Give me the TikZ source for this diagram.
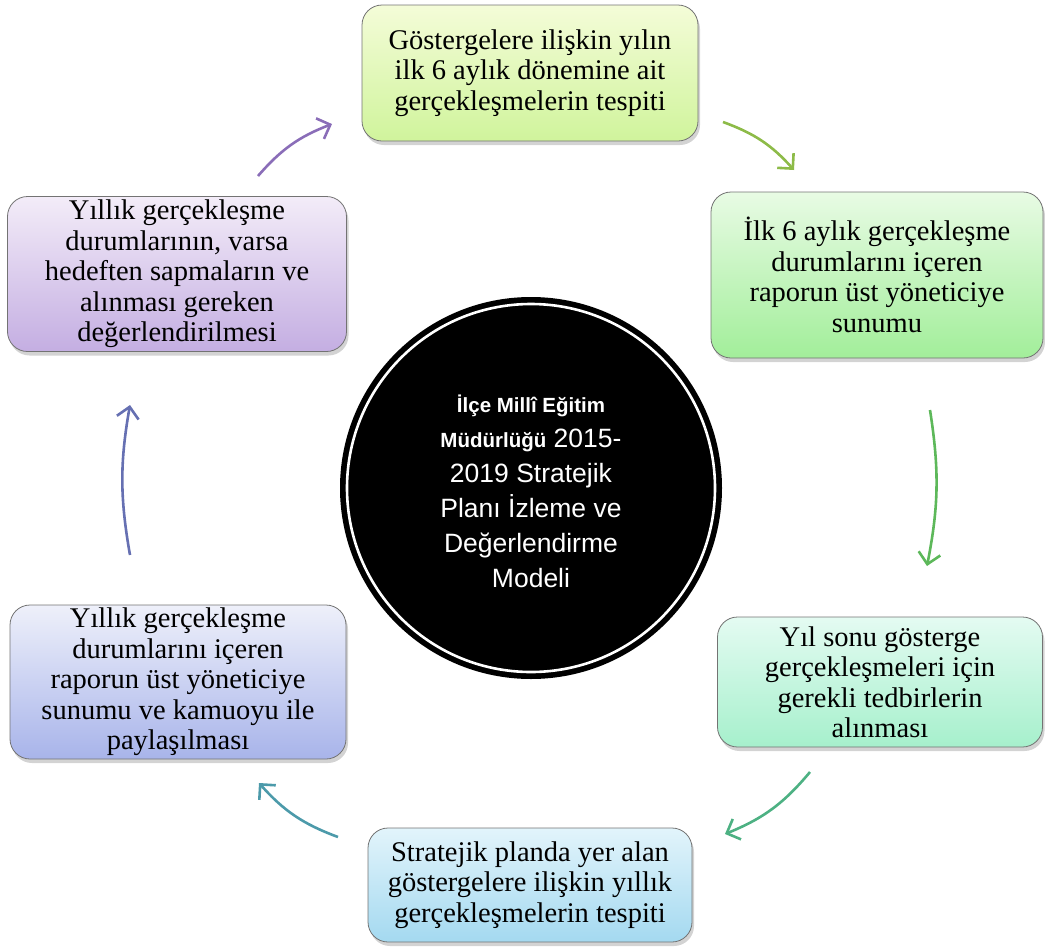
\documentclass[tikz,border=0pt]{standalone}
\usepackage{fontspec}
\setmainfont{Liberation Serif}
\newfontfamily\arialf{Liberation Sans}
\usetikzlibrary{arrows.meta,shadows}
\definecolor{aT}{HTML}{F4FCD8}\definecolor{aB}{HTML}{D0F49C}
\definecolor{bT}{HTML}{E8FBE4}\definecolor{bB}{HTML}{A2EE9A}
\definecolor{cT}{HTML}{E4FBF2}\definecolor{cB}{HTML}{A6F0CC}
\definecolor{dT}{HTML}{E2F4FB}\definecolor{dB}{HTML}{A4D9F0}
\definecolor{eT}{HTML}{EEF0FA}\definecolor{eB}{HTML}{A8B4EA}
\definecolor{fT}{HTML}{F3ECF8}\definecolor{fB}{HTML}{C4AEE2}
\definecolor{arA}{HTML}{8A6DB8}\definecolor{arB}{HTML}{8DBB48}
\definecolor{arC}{HTML}{5DB85A}\definecolor{arD}{HTML}{4DB183}
\definecolor{arE}{HTML}{4C9AAA}\definecolor{arF}{HTML}{6670B2}
\tikzset{
  stepbox/.style={draw=black!55, line width=0.8pt, rounded corners=20pt,
    align=center, inner sep=0pt,
    font=\fontsize{28.5}{30.5}\selectfont,
    drop shadow={opacity=0.35, shadow xshift=2pt, shadow yshift=-4pt}},
  cyc/.style={line width=2.6pt, -{Straight Barb[length=11pt,width=22pt]}, bend left=#1},
}
\begin{document}
\begin{tikzpicture}[x=1pt,y=-1pt]
\useasboundingbox (0,0) rectangle (1045,948);
% centre circle
\node[circle, fill=black, minimum size=382pt, inner sep=0pt] (hub) at (531,488) {};
\draw[white, line width=2.6pt] (hub.center) circle (184pt);
\node[align=center, text=white, font=\arialf\fontsize{26.5}{35}\selectfont] (hubtxt) at (531,491)
 {{\fontsize{20.5}{35}\selectfont\bfseries İlçe Millî Eğitim}\\
  {\fontsize{20.5}{35}\selectfont\bfseries Müdürlüğü} 2015-\\
  2019 Stratejik\\ Planı İzleme ve\\ Değerlendirme\\ Modeli};
% boxes
\node[stepbox, top color=aT, bottom color=aB, minimum width=336pt, minimum height=136pt] (b1) at (530,73)
 {Göstergelere ilişkin yılın\\ ilk 6 aylık dönemine ait\\ gerçekleşmelerin tespiti};
\node[stepbox, top color=bT, bottom color=bB, minimum width=332pt, minimum height=166pt] (b2) at (877,275)
 {İlk 6 aylık gerçekleşme\\ durumlarını içeren\\ raporun üst yöneticiye\\ sunumu};
\node[stepbox, top color=cT, bottom color=cB, minimum width=325pt, minimum height=130pt] (b3) at (880,682)
 {Yıl sonu gösterge\\ gerçekleşmeleri için\\ gerekli tedbirlerin\\ alınması};
\node[stepbox, top color=dT, bottom color=dB, minimum width=324pt, minimum height=114pt] (b4) at (530,885)
 {Stratejik planda yer alan\\ göstergelere ilişkin yıllık\\ gerçekleşmelerin tespiti};
\node[stepbox, top color=eT, bottom color=eB, minimum width=336pt, minimum height=154pt] (b5) at (178,682)
 {Yıllık gerçekleşme\\ durumlarını içeren\\ raporun üst yöneticiye\\ sunumu ve kamuoyu ile\\ paylaşılması};
\node[stepbox, top color=fT, bottom color=fB, minimum width=339pt, minimum height=155pt] (b6) at (177,274)
 {Yıllık gerçekleşme\\ durumlarının, varsa\\ hedeften sapmaların ve\\ alınması gereken\\ değerlendirilmesi};
% arrow end points
\coordinate (a1s) at (723,122); \coordinate (a1e) at (794,170);
\coordinate (a2s) at (930,410); \coordinate (a2e) at (927,566);
\coordinate (a3s) at (810,772); \coordinate (a3e) at (725,834);
\coordinate (a4s) at (338,837); \coordinate (a4e) at (259,783);
\coordinate (a5s) at (130,555); \coordinate (a5e) at (130,405);
\coordinate (a6s) at (258,176); \coordinate (a6e) at (332,124);
\draw[arB, cyc=14] (a1s) to (a1e);
\draw[arC, cyc=10] (a2s) to (a2e);
\draw[arD, cyc=14] (a3s) to (a3e);
\draw[arE, cyc=14] (a4s) to (a4e);
\draw[arF, cyc=10] (a5s) to (a5e);
\draw[arA, cyc=14] (a6s) to (a6e);
\end{tikzpicture}
\end{document}
